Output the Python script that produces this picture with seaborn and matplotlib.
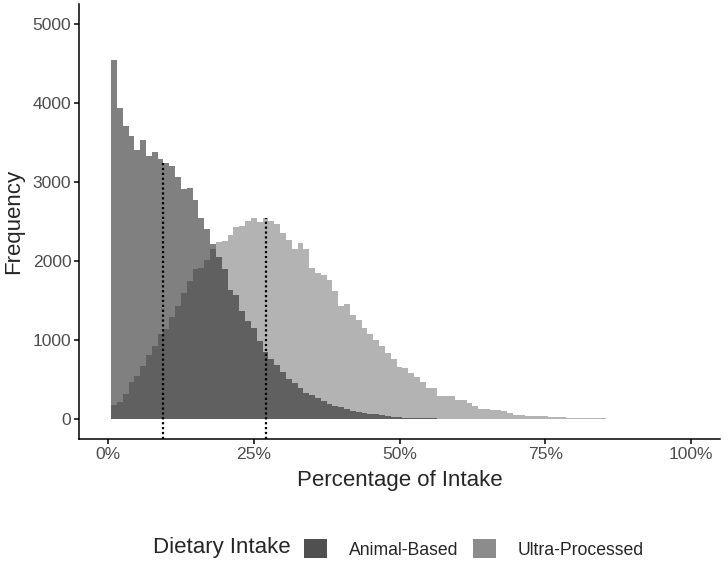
import numpy as np
import pandas as pd
import matplotlib
matplotlib.use("Agg")
import matplotlib.pyplot as plt
from matplotlib.patches import Patch
import seaborn as sns

# bin counts, one bin per whole percent (1%, 2%, ...)
animal_counts = [4540, 3934, 3702, 3575, 3400, 3535, 3331, 3373, 3285, 3245,
                 3196, 3065, 2905, 2918, 2775, 2543, 2410, 2215, 2050, 1900,
                 1637, 1565, 1370, 1236, 1150, 990, 850, 760, 680, 594,
                 510, 460, 400, 330, 305, 268, 234, 196, 165, 150,
                 130, 110, 95, 78, 70, 62, 50, 35, 30, 25,
                 20, 18, 15, 14, 12, 10, 9, 8, 7, 6,
                 5, 4, 4, 3, 2]
ultra_counts = [183, 213, 322, 466, 542, 676, 815, 929, 1077, 1140,
                1292, 1435, 1595, 1742, 1899, 1911, 2016, 2150, 2238, 2257,
                2328, 2430, 2438, 2510, 2540, 2490, 2540, 2505, 2470, 2358,
                2260, 2158, 2230, 2150, 1911, 1852, 1827, 1760, 1626, 1430,
                1460, 1321, 1249, 1153, 1081, 1005, 920, 840, 763, 660,
                650, 590, 535, 466, 394, 394, 297, 297, 297, 247,
                247, 205, 162, 135, 130, 120, 120, 99, 78, 57,
                57, 35, 35, 35, 35, 25, 25, 23, 18, 18,
                15, 14, 12, 10, 10, 9, 9, 8, 8, 8,
                0, 0, 0, 8]
group_labels = ["Animal-Based", "Ultra-Processed"]
median_pct = [9.5, 27.05]
median_height = [3259, 2543]

animal = pd.DataFrame({"pct": np.arange(1, len(animal_counts) + 1), "n": animal_counts})
ultra = pd.DataFrame({"pct": np.arange(1, len(ultra_counts) + 1), "n": ultra_counts})

sns.set_theme(style="ticks")
plt.rcParams["font.family"] = ["Liberation Sans", "DejaVu Sans"]

fig = plt.figure(figsize=(7.24, 5.65), dpi=100)
ax = fig.add_axes([79 / 724, 1 - 439 / 565, (720 - 79) / 724, (439 - 4) / 565])

sns.histplot(data=animal, x="pct", weights="n", discrete=True, element="step",
             fill=True, color="#2b2b2b", alpha=0.6, linewidth=0, edgecolor="none", ax=ax)
sns.histplot(data=ultra, x="pct", weights="n", discrete=True, element="step",
             fill=True, color="#262626", alpha=0.35, linewidth=0, edgecolor="none", ax=ax)

ax.vlines(median_pct, -250, median_height, colors="black",
          linestyles=(0, (1, 1.2)), linewidth=1.6)

ax.set_xlim(-5, 105)
ax.set_ylim(-250, 5250)
ax.set_xticks([0, 25, 50, 75, 100])
ax.set_xticklabels(["0%", "25%", "50%", "75%", "100%"])
ax.set_yticks([0, 1000, 2000, 3000, 4000, 5000])
ax.tick_params(labelsize=12.6, labelcolor="#4d4d4d", length=3.5, width=1.1,
               color="black", pad=2)
ax.set_xlabel("Percentage of Intake", fontsize=16, labelpad=6)
ax.set_ylabel("Frequency", fontsize=16, labelpad=6)
for side in ["left", "bottom"]:
    ax.spines[side].set_linewidth(1.1)
    ax.spines[side].set_color("black")
sns.despine(ax=ax)

fig.text(153 / 724, 1 - 548 / 565, "Dietary Intake", fontsize=16, ha="left", va="center")
handles = [Patch(facecolor="#505050", edgecolor="none"),
           Patch(facecolor="#8c8c8c", edgecolor="none")]
fig.legend(handles, group_labels, loc="center left",
           bbox_to_anchor=(304 / 724, 1 - 549 / 565), ncol=2, frameon=False,
           fontsize=12.7, handlelength=1.3, handleheight=1.25, handletextpad=1.25,
           columnspacing=0.8, borderpad=0, borderaxespad=0)

fig.savefig("out.png", dpi=100)
